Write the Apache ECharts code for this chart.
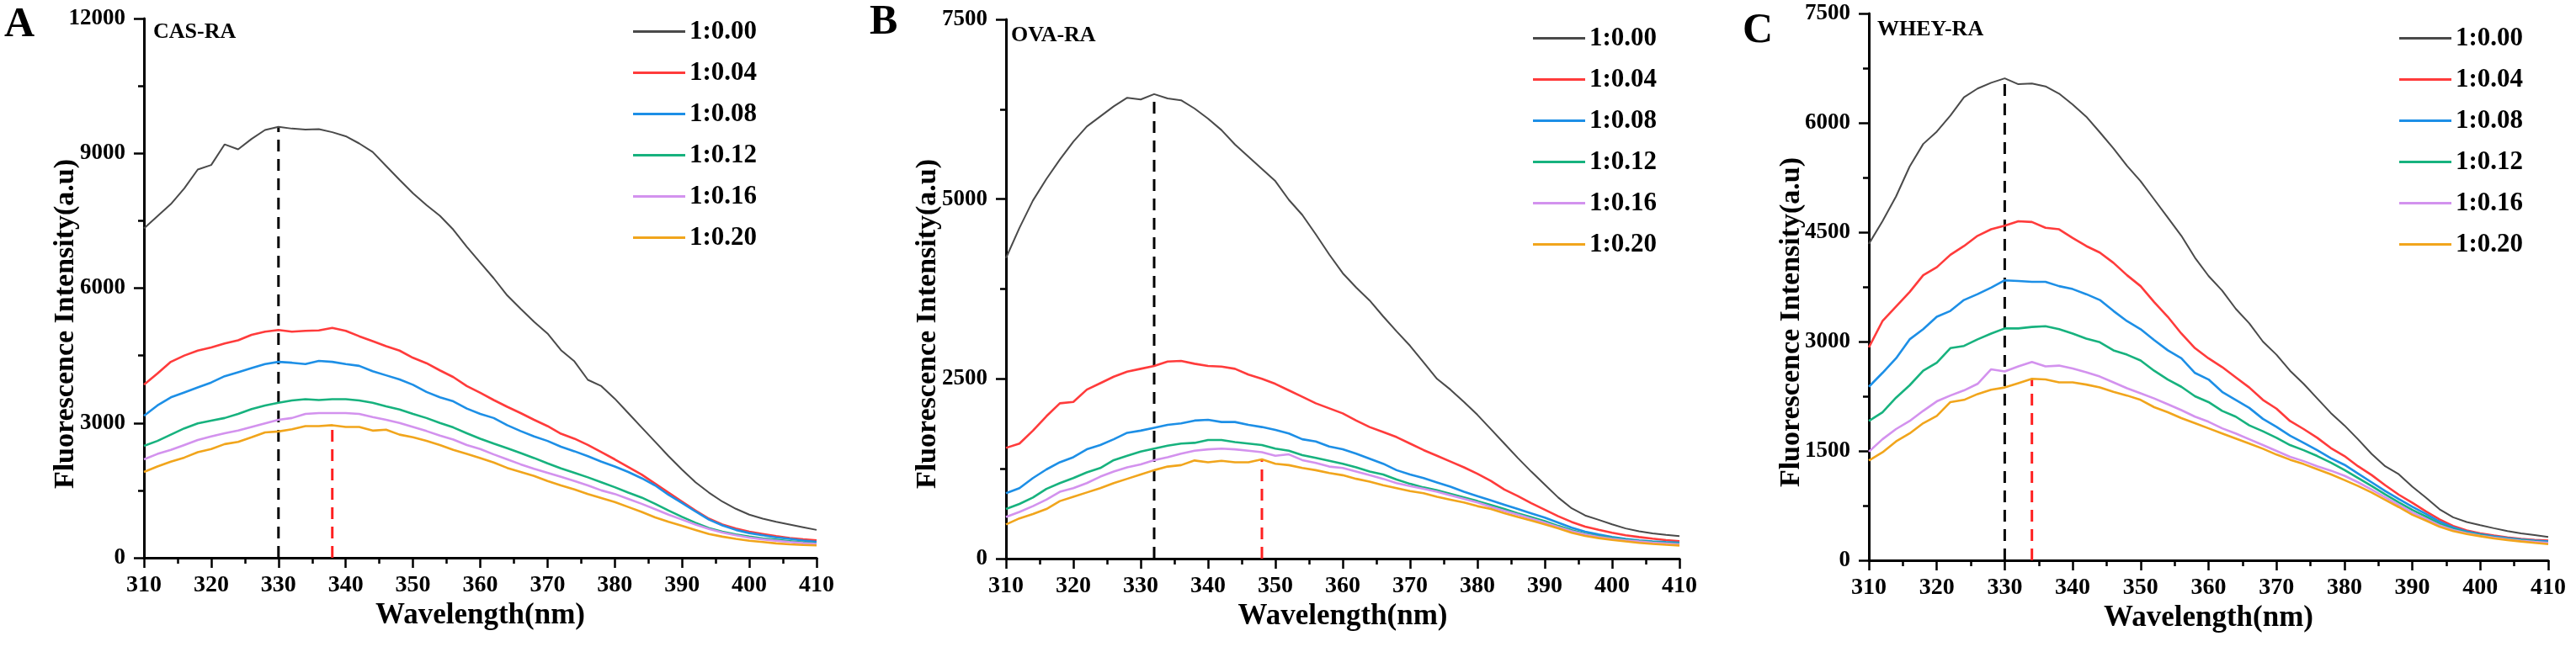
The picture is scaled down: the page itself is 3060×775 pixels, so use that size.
<!DOCTYPE html>
<html><head><meta charset="utf-8">
<script src="https://cdn.jsdelivr.net/npm/echarts@6/dist/echarts.min.js"></script>
<style>html,body{margin:0;padding:0;background:#fff}#c{width:3060px;height:775px}</style>
</head><body><div id="c"></div>
<script>
const wavelengths = [310,312,314,316,318,320,322,324,326,328,330,332,334,336,338,340,342,344,346,348,350,352,354,356,358,360,362,364,366,368,370,372,374,376,378,380,382,384,386,388,390,392,394,396,398,400,402,404,406,408,410];
const ratioLabels = ['1:0.00','1:0.04','1:0.08','1:0.12','1:0.16','1:0.20'];
const panelLetters = ['A','B','C'];
const panelTitles = ['CAS-RA','OVA-RA','WHEY-RA'];
const xAxisTitle = 'Wavelength(nm)';
const yAxisTitle = 'Fluorescence Intensity(a.u)';
const yMaxes = [12000, 7500, 7500];
const yIntervals = [3000, 2500, 1500];
const xMin = 310, xMax = 410, xInterval = 10;
const peakBlack = [330, 332, 330];
const peakRed = [338, 348, 334];

const cas_000 = [7330,7600,7870,8220,8640,8740,9200,9090,9320,9520,9590,9550,9530,9540,9470,9380,9220,9030,8720,8410,8110,7850,7610,7300,6920,6570,6220,5840,5540,5250,4990,4620,4370,3960,3820,3540,3220,2900,2580,2260,1960,1680,1450,1250,1090,960,870,800,740,680,620];
const cas_004 = [3850,4100,4360,4500,4610,4680,4770,4840,4960,5030,5070,5030,5050,5060,5115,5050,4930,4820,4710,4610,4450,4330,4170,4020,3820,3670,3510,3360,3220,3070,2930,2760,2650,2510,2350,2190,2020,1850,1650,1450,1250,1050,870,740,650,580,530,480,440,410,387];
const cas_008 = [3160,3390,3570,3680,3790,3900,4040,4130,4220,4310,4360,4340,4310,4380,4360,4310,4270,4150,4060,3970,3850,3690,3570,3480,3320,3200,3110,2950,2820,2700,2600,2470,2370,2260,2140,2030,1910,1770,1610,1400,1220,1030,850,720,620,550,500,455,420,385,356];
const cas_012 = [2490,2600,2740,2880,2990,3050,3110,3200,3310,3390,3450,3500,3530,3510,3530,3530,3500,3450,3370,3300,3200,3110,3000,2900,2770,2650,2540,2440,2330,2220,2100,1990,1890,1790,1680,1570,1450,1340,1200,1050,910,780,660,580,520,470,430,400,370,340,318];
const cas_016 = [2190,2310,2400,2510,2620,2700,2770,2830,2910,2990,3070,3110,3200,3220,3220,3220,3200,3130,3070,3000,2910,2820,2720,2630,2510,2420,2300,2190,2080,1980,1890,1800,1710,1610,1500,1420,1310,1200,1080,960,850,740,640,560,500,450,410,380,350,325,306];
const cas_020 = [1910,2030,2140,2230,2350,2420,2530,2580,2680,2790,2810,2860,2930,2930,2950,2910,2910,2830,2850,2740,2680,2600,2510,2400,2310,2220,2120,2000,1910,1820,1710,1610,1520,1420,1330,1240,1130,1020,900,800,710,620,530,470,420,380,350,320,300,285,275];

const ova_000 = [4180,4600,4980,5280,5550,5800,6010,6150,6290,6410,6385,6460,6400,6375,6260,6120,5960,5760,5590,5420,5250,4990,4780,4510,4230,3970,3770,3590,3370,3160,2960,2730,2500,2350,2180,2000,1800,1600,1400,1210,1030,850,700,600,540,476,420,380,350,330,312];
const ova_004 = [1540,1600,1780,1980,2160,2180,2350,2440,2530,2600,2640,2680,2740,2750,2710,2680,2670,2640,2560,2500,2430,2340,2250,2160,2090,2020,1920,1830,1760,1690,1600,1510,1430,1350,1270,1180,1080,960,870,770,680,590,510,445,400,360,325,300,278,258,242];
const ova_008 = [910,980,1120,1240,1340,1410,1520,1580,1660,1750,1780,1820,1860,1880,1920,1930,1900,1900,1860,1830,1790,1740,1660,1630,1560,1520,1460,1390,1320,1230,1170,1120,1060,1000,930,870,810,750,690,630,570,500,430,375,335,300,275,255,240,230,222];
const ova_012 = [690,760,850,970,1050,1120,1200,1260,1370,1430,1490,1530,1570,1600,1610,1650,1650,1620,1600,1580,1530,1500,1440,1400,1360,1320,1270,1210,1170,1100,1040,990,950,900,850,800,745,690,630,575,520,455,395,345,310,285,262,245,230,218,208];
const ova_016 = [580,650,730,820,930,980,1050,1140,1210,1270,1310,1370,1410,1460,1500,1520,1530,1520,1500,1480,1430,1450,1370,1330,1280,1260,1210,1160,1110,1050,1010,970,930,880,830,780,720,665,610,555,500,440,380,335,300,275,255,238,222,210,198];
const ova_020 = [475,560,620,690,800,860,920,980,1050,1110,1170,1230,1280,1300,1365,1340,1360,1340,1340,1380,1320,1300,1260,1230,1190,1160,1110,1070,1020,980,940,910,860,820,780,730,690,632,580,530,476,420,360,315,285,261,240,220,205,193,183];

const whey_000 = [4340,4650,4990,5400,5710,5880,6100,6350,6470,6550,6610,6530,6540,6500,6400,6250,6085,5870,5650,5410,5200,4950,4700,4450,4150,3900,3700,3450,3250,3000,2820,2600,2420,2220,2020,1850,1660,1460,1290,1180,1010,860,700,590,525,482,440,400,370,345,320];
const whey_004 = [2920,3280,3480,3680,3910,4020,4190,4310,4450,4540,4590,4650,4640,4560,4540,4420,4310,4220,4080,3910,3760,3540,3340,3110,2910,2770,2650,2510,2370,2200,2080,1910,1800,1680,1540,1430,1290,1170,1030,900,790,670,560,470,410,370,340,315,295,280,270];
const whey_008 = [2380,2570,2770,3030,3170,3340,3420,3570,3650,3740,3840,3830,3820,3820,3760,3720,3650,3570,3420,3280,3170,3020,2880,2770,2570,2480,2310,2200,2090,1940,1830,1710,1610,1510,1400,1310,1190,1070,950,840,735,635,530,450,395,357,328,305,285,270,258];
const whey_012 = [1910,2030,2230,2400,2600,2710,2910,2940,3030,3110,3180,3180,3200,3210,3170,3110,3040,2990,2880,2820,2740,2600,2480,2380,2250,2170,2050,1970,1850,1770,1680,1580,1510,1430,1340,1240,1130,1020,905,795,690,600,500,430,380,345,318,295,275,258,243];
const whey_016 = [1490,1660,1800,1910,2050,2180,2260,2330,2420,2620,2590,2660,2720,2660,2670,2630,2580,2520,2440,2360,2290,2220,2140,2060,1970,1900,1810,1740,1660,1580,1500,1420,1360,1290,1230,1160,1070,970,865,760,655,570,480,415,372,338,310,288,268,252,238];
const whey_020 = [1370,1480,1630,1740,1880,1980,2170,2200,2280,2340,2370,2430,2490,2480,2440,2440,2410,2370,2310,2260,2200,2100,2030,1950,1880,1810,1740,1670,1600,1530,1450,1380,1320,1250,1180,1100,1020,930,830,730,625,545,460,400,360,330,300,278,258,240,223];

const panelData = [
  [cas_000, cas_004, cas_008, cas_012, cas_016, cas_020],
  [ova_000, ova_004, ova_008, ova_012, ova_016, ova_020],
  [whey_000, whey_004, whey_008, whey_012, whey_016, whey_020]
];

// ---- styling (kept separate from data) ----
const FONT = '"Liberation Serif", "Times New Roman", serif';
const colors = ['#4a4a4a', '#ff3b3b', '#1d8fe6', '#17b27e', '#d392ee', '#f1a51c'];
const widths = [2, 2.6, 2.6, 2.6, 2.6, 2.6];
const grids = [
  {left: 171, top: 22, width: 799, height: 641},
  {left: 1195, top: 23, width: 800, height: 641},
  {left: 2220, top: 16, width: 807, height: 650}
];
const legendPos = [{left: 752, top: 22}, {left: 1821, top: 30}, {left: 2850, top: 30}];
const letterPos = [[5, 30], [1033, 27], [2070, 37]];
const titlePos = [[182, 38], [1201, 42], [2230, 35]];
const yTitlePos = [[78, 385], [1102, 385], [2128, 383]];

const chart = echarts.init(document.getElementById('c'), null, {renderer: 'canvas'});

const xAxes = [], yAxes = [], series = [], legends = [], graphics = [];
for (let p = 0; p < 3; p++) {
  xAxes.push({
    type: 'value', gridIndex: p, min: xMin, max: xMax, interval: xInterval,
    name: xAxisTitle, nameLocation: 'middle', nameGap: 42,
    nameTextStyle: {fontFamily: FONT, fontWeight: 'bold', fontSize: 35, color: '#000'},
    axisLine: {show: true, onZero: false, lineStyle: {color: '#000', width: 3}},
    axisTick: {show: true, inside: false, length: 12, lineStyle: {color: '#000', width: 2.5}},
    minorTick: {show: true, splitNumber: 2, length: 7, lineStyle: {color: '#000', width: 2.5}},
    axisLabel: {fontFamily: FONT, fontWeight: 'bold', fontSize: 28, color: '#000', margin: 19},
    splitLine: {show: false}, minorSplitLine: {show: false}
  });
  yAxes.push({
    type: 'value', gridIndex: p, min: 0, max: yMaxes[p], interval: yIntervals[p],
    axisLine: {show: true, onZero: false, lineStyle: {color: '#000', width: 3}},
    axisTick: {show: true, inside: false, length: 12, lineStyle: {color: '#000', width: 2.5}},
    minorTick: {show: true, splitNumber: 2, length: 7, lineStyle: {color: '#000', width: 2.5}},
    axisLabel: {fontFamily: FONT, fontWeight: 'bold', fontSize: 27, color: '#000', margin: 22,
      formatter: v => String(v)},
    splitLine: {show: false}, minorSplitLine: {show: false}
  });
  const data = panelData[p];
  for (let i = 0; i < 6; i++) {
    series.push({
      type: 'line', name: ratioLabels[i], xAxisIndex: p, yAxisIndex: p,
      data: wavelengths.map((w, k) => [w, data[i][k]]),
      symbol: 'none', showSymbol: false, smooth: false, animation: false, silent: true,
      lineStyle: {color: colors[i], width: widths[i]}, itemStyle: {color: colors[i]},
      z: 3
    });
  }
  const kB = wavelengths.indexOf(peakBlack[p]);
  const kR = wavelengths.indexOf(peakRed[p]);
  series.push({
    type: 'line', name: 'peak0-' + p, xAxisIndex: p, yAxisIndex: p,
    data: [[peakBlack[p], 0], [peakBlack[p], data[0][kB]]],
    symbol: 'none', animation: false, silent: true, z: 2,
    lineStyle: {color: '#000', width: 3, type: [14, 9]}
  });
  series.push({
    type: 'line', name: 'peak5-' + p, xAxisIndex: p, yAxisIndex: p,
    data: [[peakRed[p], 0], [peakRed[p], data[5][kR]]],
    symbol: 'none', animation: false, silent: true, z: 2,
    lineStyle: {color: '#ff2020', width: 3, type: [14, 9]}
  });
  legends.push({
    orient: 'vertical', left: legendPos[p].left, top: legendPos[p].top, padding: 0,
    data: ratioLabels, itemWidth: 62, itemHeight: 20, itemGap: 18,
    icon: 'path://M0,9 L62,9 L62,12 L0,12 Z',
    textStyle: {fontFamily: FONT, fontWeight: 'bold', fontSize: 31, color: '#000', padding: 0},
    selectedMode: false
  });
  graphics.push({
    type: 'text', x: letterPos[p][0], y: letterPos[p][1],
    style: {text: panelLetters[p], font: 'bold 50px ' + FONT, fill: '#000', align: 'left', verticalAlign: 'middle'}
  });
  graphics.push({
    type: 'text', x: titlePos[p][0], y: titlePos[p][1],
    style: {text: panelTitles[p], font: 'bold 26px ' + FONT, fill: '#000', align: 'left', verticalAlign: 'middle'}
  });
  graphics.push({
    type: 'text', x: yTitlePos[p][0], y: yTitlePos[p][1], rotation: Math.PI / 2,
    style: {text: yAxisTitle, font: 'bold 34px ' + FONT, fill: '#000', align: 'center', verticalAlign: 'middle'}
  });
}

chart.setOption({
  backgroundColor: '#fff',
  animation: false,
  grid: grids.map(g => Object.assign({containLabel: false, outerBoundsMode: 'none'}, g)),
  xAxis: xAxes, yAxis: yAxes, series: series, legend: legends, graphic: graphics,
  tooltip: {show: false}
});
</script></body></html>
